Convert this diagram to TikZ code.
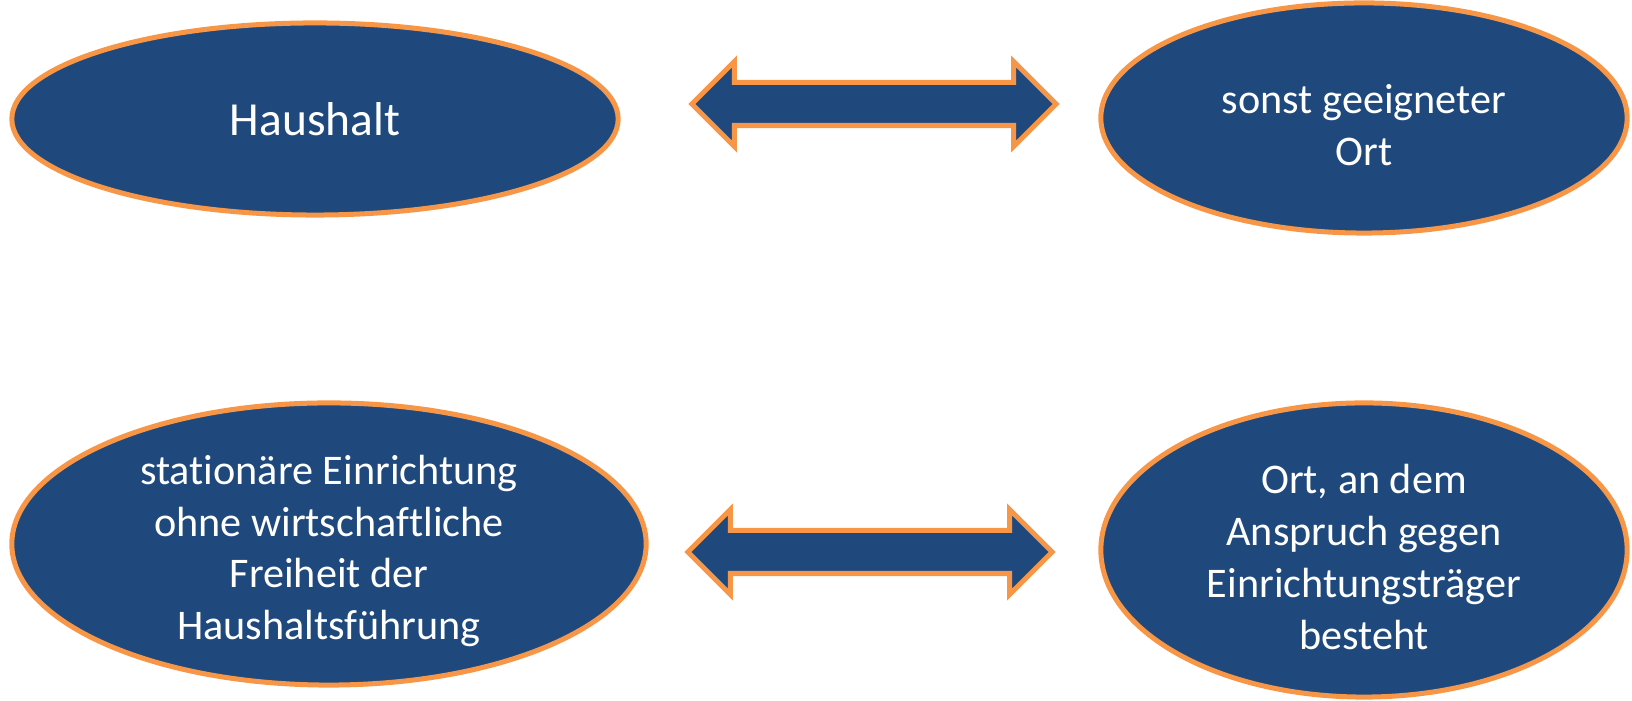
\documentclass[tikz,border=0pt]{standalone}
\usepackage{fontspec}
\setmainfont{Carlito}[RawFeature={-liga;-clig;-calt;-dlig}]
\usetikzlibrary{shapes.geometric,shapes.arrows}
\definecolor{fillblue}{RGB}{31,73,125}
\definecolor{edgeorange}{RGB}{247,150,70}
\newcommand{\ovalstrut}{\rule{0pt}{12.3pt}}

\begin{document}
\begin{tikzpicture}[
    x=0.01cm, y=-0.01cm,
    oval/.style={ellipse, draw=edgeorange, fill=fillblue, line width=0.05cm, inner xsep=0pt, inner ysep=-2pt, text=white, align=center, font=\fontsize{12}{14.7}\selectfont},
    both/.style={double arrow, draw=edgeorange, fill=fillblue, line width=0.05cm, double arrow head extend=0.21cm, double arrow head indent=0pt, inner sep=0pt, text height=0.19cm, text depth=0.19cm, minimum height=3.64cm, minimum width=0.8cm}
]
  \useasboundingbox (0,0) rectangle (1632,701);

  \node[oval, minimum width=6.06cm, minimum height=1.92cm] (haushalt) at (315,119) {\fontsize{13.5}{16}\selectfont Haushalt};
  \node[oval, minimum width=5.26cm, minimum height=2.30cm] (sonstort) at (1364,118) {\ovalstrut sonst geeigneter\\Ort};
  \node[oval, minimum width=6.34cm, minimum height=2.82cm] (stationaer) at (329,544) {\ovalstrut stationäre Einrichtung\\ohne wirtschaftliche\\Freiheit der\\Haushaltsführung};
  \node[oval, minimum width=5.26cm, minimum height=2.94cm] (anspruchort) at (1364,550) {\ovalstrut Ort, an dem\\Anspruch gegen\\Einrichtungsträger\\besteht};

  \node[both] (pfeiloben) at (874,104) {};
  \node[both] (pfeilunten) at (870,552) {};
\end{tikzpicture}
\end{document}
